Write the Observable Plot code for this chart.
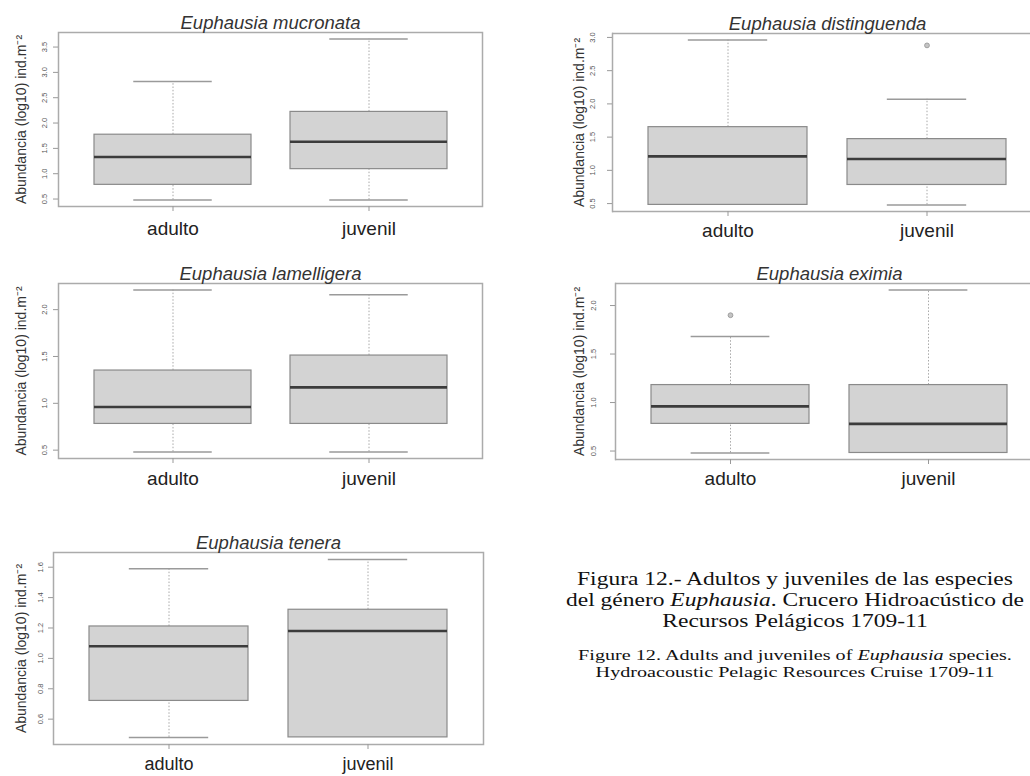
<!DOCTYPE html>
<html><head><meta charset="utf-8">
<script src="https://cdn.jsdelivr.net/npm/d3@7"></script>
<script src="https://cdn.jsdelivr.net/npm/@observablehq/plot@0.6"></script>
<style>
html,body{margin:0;padding:0;background:#fff;overflow:hidden;}
#root{position:relative;width:1030px;height:776px;overflow:hidden;background:#fff;}
.panel{position:absolute;max-width:none !important;}
.cap{position:absolute;text-align:center;white-space:nowrap;font-family:"Liberation Serif","Times New Roman",serif;color:#111;transform-origin:50% 50%;}
</style></head><body><div id="root"></div>
<script>
// ---- data ----
const species = ["Euphausia mucronata","Euphausia distinguenda","Euphausia lamelligera","Euphausia eximia","Euphausia tenera"];
const stages = ["adulto","juvenil"];
const whiskerLow  = [[0.48,0.48],[0.48,0.48],[0.48,0.48],[0.48,0.48],[0.48,0.48]];
const quartile1   = [[0.78,1.09],[0.48,0.78],[0.78,0.78],[0.78,0.48],[0.72,0.48]];
const medians     = [[1.33,1.63],[1.21,1.17],[0.96,1.17],[0.96,0.78],[1.08,1.18]];
const quartile3   = [[1.77,2.22],[1.65,1.47],[1.35,1.51],[1.18,1.18],[1.21,1.32]];
const whiskerHigh = [[2.82,3.66],[2.96,2.07],[2.21,2.16],[1.68,2.16],[1.59,1.65]];
const outliers    = [[[],[]],[[],[2.88]],[[],[]],[[1.90],[]],[[],[]]];
const yTicks = [[0.5,1.0,1.5,2.0,2.5,3.0,3.5],[0.5,1.0,1.5,2.0,2.5,3.0],[0.5,1.0,1.5,2.0],[0.5,1.0,1.5,2.0],[0.6,0.8,1.0,1.2,1.4,1.6]];
const yLabel = "Abundancia (log10) ind.m⁻²";

// ---- layout (frame rectangles in page pixels) ----
const layout = [
  {left:58,  top:32,  right:482,  bottom:206, tickLab:15, axLab:37, catDy:24, catSize:19, open:false},
  {left:612, top:33,  right:1042, bottom:211, tickLab:21, axLab:33, catDy:21, catSize:19, open:true},
  {left:58,  top:283, right:482,  bottom:458, tickLab:15, axLab:37, catDy:22, catSize:19, open:false},
  {left:615, top:283, right:1043, bottom:459, tickLab:23, axLab:36, catDy:21, catSize:19, open:true},
  {left:53,  top:552, right:483,  bottom:744, tickLab:14, axLab:32, catDy:22, catSize:18, open:false}
];

const root = document.getElementById("root");
const ML = 60, MT = 40, MR = 10, MB = 40;
const frameColor = "#ababab";

species.forEach((name, i) => {
  const L = layout[i];
  const rows = stages.map((s, j) => ({
    stage: s, lo: whiskerLow[i][j], q1: quartile1[i][j], med: medians[i][j],
    q3: quartile3[i][j], hi: whiskerHigh[i][j]
  }));
  const outs = stages.flatMap((s, j) => outliers[i][j].map(v => ({stage: s, v})));
  const all = rows.flatMap(r => [r.lo, r.hi]).concat(outs.map(o => o.v));
  const [mn, mx] = d3.extent(all);
  const ext = (mx - mn) * 0.04;
  const dom = [mn - ext, mx + ext];
  const W = L.right - L.left;
  const capInset = 0.2 * W / 2.16;
  const upper = rows.filter(r => r.hi > r.q3);
  const lower = rows.filter(r => r.lo < r.q1);
  // panels cut by the page's right edge: draw only top, bottom and left sides of the box
  const frameMarks = L.open
    ? [Plot.ruleY(dom, {stroke: frameColor, strokeWidth: 1.5}),
       Plot.frame({anchor: "left", stroke: frameColor, strokeWidth: 1.5})]
    : [Plot.frame({stroke: frameColor, strokeWidth: 1.5})];

  const chart = Plot.plot({
    width: W + ML + MR,
    height: (L.bottom - L.top) + MT + MB,
    marginLeft: ML, marginTop: MT, marginRight: MR, marginBottom: MB,
    style: {fontFamily: "'Liberation Sans', Arial, sans-serif", background: "transparent", maxWidth: "none"},
    x: {type: "band", domain: stages, paddingInner: 0.2, paddingOuter: 0.18},
    y: {domain: dom},
    marks: [
      Plot.ruleX(upper, {x: "stage", y1: "q3", y2: "hi", stroke: "#a8a8a8", strokeWidth: 1, strokeDasharray: "1.5,1.8"}),
      Plot.ruleX(lower, {x: "stage", y1: "lo", y2: "q1", stroke: "#a8a8a8", strokeWidth: 1, strokeDasharray: "1.5,1.8"}),
      Plot.tickY(upper, {x: "stage", y: "hi", stroke: "#9a9a9a", strokeWidth: 1.5, inset: capInset}),
      Plot.tickY(lower, {x: "stage", y: "lo", stroke: "#9a9a9a", strokeWidth: 1.5, inset: capInset}),
      Plot.barY(rows, {x: "stage", y1: "q1", y2: "q3", fill: "#d3d3d3", stroke: "#8a8a8a", strokeWidth: 1.2}),
      Plot.tickY(rows, {x: "stage", y: "med", stroke: "#3c3c3c", strokeWidth: 2.6}),
      Plot.dot(outs, {x: "stage", y: "v", r: 2.4, fill: "#c4c4c4", stroke: "#a0a0a0", strokeWidth: 1}),
      ...frameMarks,
      Plot.axisY({ticks: yTicks[i], tickFormat: d3.format(".1f"), tickSize: 5, tickRotate: -90,
                  tickPadding: L.tickLab - 5 - 3.5, fontSize: 7.5, stroke: "#999", fill: "#555", label: null}),
      Plot.axisX({tickSize: 5, tickPadding: L.catDy - 14, fontSize: L.catSize, stroke: "#999", fill: "#222", label: null}),
      Plot.text([yLabel], {frameAnchor: "left", rotate: -90, dx: -L.axLab, fontSize: 14, fill: "#333",
                           textAnchor: "middle", lineAnchor: "middle"}),
      Plot.text([name], {frameAnchor: "top", dy: -9, fontSize: 18.5, fontStyle: "italic", fill: "#333",
                         textAnchor: "middle", lineAnchor: "middle"})
    ]
  });
  chart.classList.add("panel");
  chart.style.maxWidth = "none";
  chart.style.left = (L.left - ML) + "px";
  chart.style.top = (L.top - MT) + "px";
  root.appendChild(chart);
});

// ---- caption ----
const capEs = document.createElement("div");
capEs.className = "cap";
capEs.style.cssText = "left:565px;top:569px;width:460px;font-size:18.5px;line-height:21px;transform:scaleX(1.27);";
capEs.innerHTML = "Figura 12.- Adultos y juveniles de las especies<br>del género <i>Euphausia</i>. Crucero Hidroacústico de<br>Recursos Pelágicos 1709-11";
root.appendChild(capEs);

const capEn = document.createElement("div");
capEn.className = "cap";
capEn.style.cssText = "left:565px;top:646px;width:460px;font-size:15.5px;line-height:17px;transform:scaleX(1.3);";
capEn.innerHTML = "Figure 12. Adults and juveniles of <i>Euphausia</i> species.<br>Hydroacoustic Pelagic Resources Cruise 1709-11";
root.appendChild(capEn);
</script>
</body></html>
